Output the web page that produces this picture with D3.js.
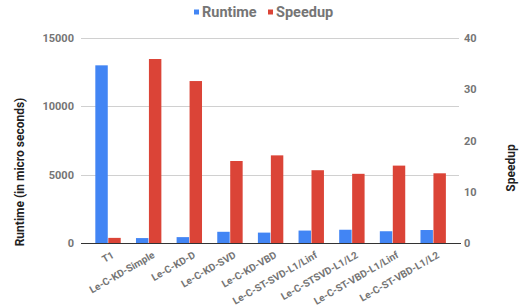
<!DOCTYPE html>
<html><head><meta charset="utf-8">
<script src="https://cdn.jsdelivr.net/npm/d3@7"></script>
<style>body{margin:0;background:#fff;}svg{display:block;font-family:Roboto,Arial,sans-serif;}</style>
</head><body>
<svg id="c" width="524" height="307"></svg>
<script>
const categories = ["T1","Le-C-KD-Simple","Le-C-KD-D","Le-C-KD-SVD","Le-C-KD-VBD","Le-C-ST-SVD-L1/Linf","Le-C-STSVD-L1/L2","Le-C-ST-VBD-L1/Linf","Le-C-ST-VBD-L1/L2"];
const runtime = [13000, 360, 430, 820, 760, 910, 970, 860, 950];
const speedup = [1.0, 35.9, 31.6, 16.0, 17.1, 14.2, 13.5, 15.1, 13.6];
const leftTicks = [0, 5000, 10000, 15000];
const rightTicks = [0, 10, 20, 30, 40];
const seriesNames = ["Runtime", "Speedup"];
const colors = ["#4285F4", "#DB4437"];

const svg = d3.select("#c");
const plotL = 81, plotR = 459, plotT = 38, plotB = 243;
const x = d3.scaleBand().domain(categories).range([87.7, 453.5]).paddingInner(0.375).paddingOuter(0.1875);
const xs = d3.scaleBand().domain(seriesNames).range([0, x.bandwidth()]).paddingInner(0.04);
const yL = d3.scaleLinear().domain([0, 15000]).range([plotB, plotT]);
const yR = d3.scaleLinear().domain([0, 40]).range([plotB, plotT]);

// gridlines
svg.append("g").selectAll("line").data(leftTicks.filter(d => d > 0)).join("line")
  .attr("x1", plotL).attr("x2", plotR)
  .attr("y1", d => Math.round(yL(d)) + 0.5).attr("y2", d => Math.round(yL(d)) + 0.5)
  .attr("stroke", "#d0d0d0").attr("stroke-width", 1);

// left axis
const axL = d3.axisLeft(yL).tickValues(leftTicks).tickSize(0).tickPadding(7).tickFormat(d3.format("d"));
const gL = svg.append("g").attr("transform", `translate(${plotL},0)`).call(axL);
gL.select(".domain").remove();
gL.selectAll("text").attr("fill", "#757575").attr("font-size", 11).attr("font-weight", "bold").attr("font-family", "Roboto,Arial,sans-serif");

// right axis
const axR = d3.axisRight(yR).tickValues(rightTicks).tickSize(0).tickPadding(5).tickFormat(d3.format("d"));
const gR = svg.append("g").attr("transform", `translate(${plotR},0)`).call(axR);
gR.select(".domain").remove();
gR.selectAll("text").attr("fill", "#757575").attr("font-size", 11).attr("font-weight", "bold").attr("font-family", "Roboto,Arial,sans-serif");

// bars
const g = svg.append("g");
const groups = g.selectAll("g").data(categories).join("g").attr("transform", d => `translate(${x(d)},0)`);
groups.append("rect")
  .attr("x", xs("Runtime")).attr("width", xs.bandwidth())
  .attr("y", (d, i) => yL(runtime[i])).attr("height", (d, i) => plotB - yL(runtime[i]))
  .attr("fill", colors[0]);
groups.append("rect")
  .attr("x", xs("Speedup")).attr("width", xs.bandwidth())
  .attr("y", (d, i) => yR(speedup[i])).attr("height", (d, i) => plotB - yR(speedup[i]))
  .attr("fill", colors[1]);

// baseline
svg.append("line").attr("x1", plotL).attr("x2", plotR + 2).attr("y1", plotB + 0.5).attr("y2", plotB + 0.5)
  .attr("stroke", "#333").attr("stroke-width", 1.2);

// x labels
svg.append("g").selectAll("text").data(categories).join("text")
  .attr("transform", d => `translate(${x(d) + x.bandwidth() / 2 + 5},${plotB + 11}) rotate(-30)`)
  .attr("text-anchor", "end").attr("dy", "0.35em")
  .attr("fill", "#757575").attr("font-size", 10).attr("font-weight", "bold")
  .text(d => d);

// axis titles
svg.append("text").attr("transform", "translate(24,172) rotate(-90)")
  .attr("text-anchor", "middle").attr("font-size", 12).attr("font-weight", "bold").attr("fill", "#222")
  .text("Runtime (in micro seconds)");
svg.append("text").attr("transform", "translate(515,168) rotate(-90)")
  .attr("text-anchor", "middle").attr("font-size", 12).attr("font-weight", "bold").attr("fill", "#222")
  .text("Speedup");

// legend
const legX = [194, 268];
const leg = svg.append("g").selectAll("g").data(seriesNames).join("g")
  .attr("transform", (d, i) => `translate(${legX[i]},0)`);
leg.append("rect").attr("x", 0).attr("y", 9.5).attr("width", 5).attr("height", 5).attr("fill", (d, i) => colors[i]);
leg.append("text").attr("x", 8).attr("y", 12).attr("dy", "0.35em")
  .attr("font-size", 14.5).attr("font-weight", "bold").attr("fill", "#757575").text(d => d);
</script>
</body></html>
